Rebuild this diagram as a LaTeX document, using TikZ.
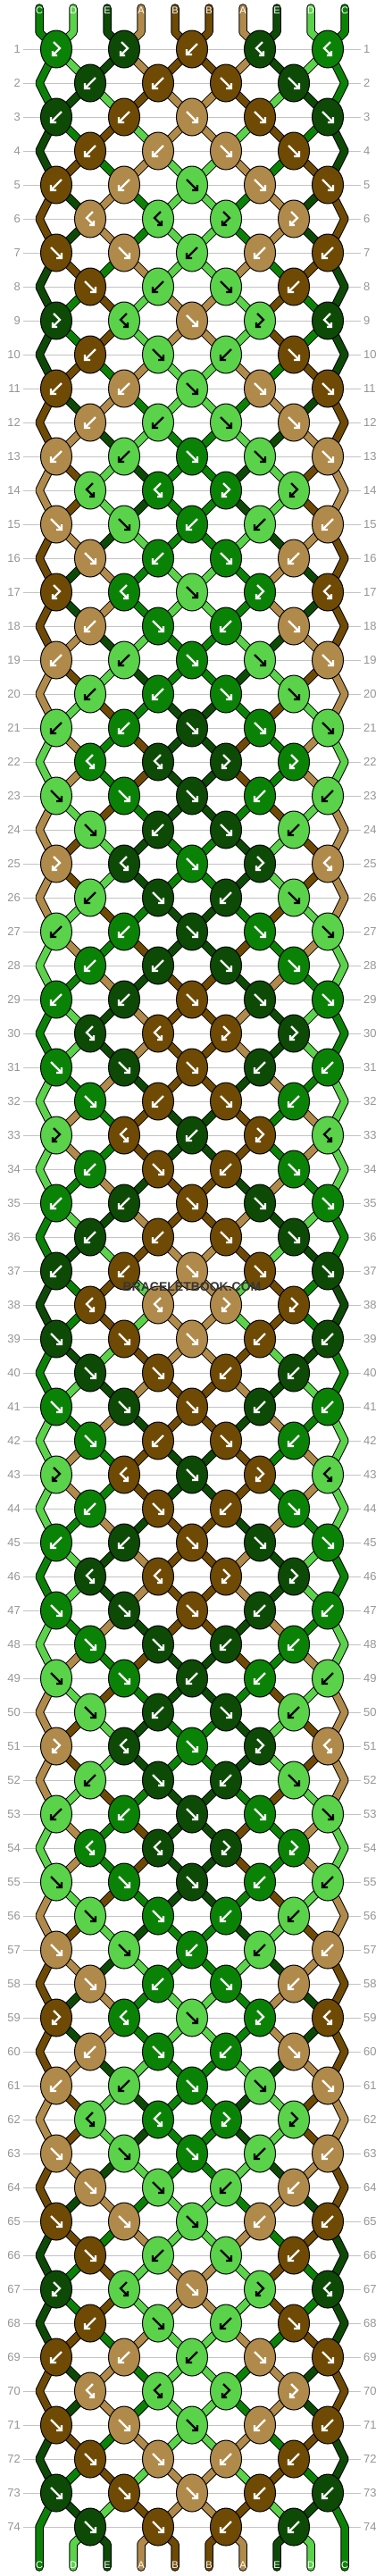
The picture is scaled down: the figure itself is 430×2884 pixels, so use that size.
\documentclass[tikz,border=0pt]{standalone}
\usepackage{fontspec}
\setmainfont{Liberation Sans}
\usepackage{xcolor}
\usetikzlibrary{shapes.geometric,positioning}
\definecolor{strA}{RGB}{176,138,74}
\definecolor{strB}{RGB}{110,74,4}
\definecolor{strC}{RGB}{10,130,6}
\definecolor{strD}{RGB}{90,210,74}
\definecolor{strE}{RGB}{12,74,6}
\definecolor{numgray}{RGB}{150,150,150}
\definecolor{rulegray}{RGB}{195,195,195}
\definecolor{markgray}{RGB}{55,55,55}

\pgfdeclarelayer{rules}
\pgfdeclarelayer{strands}
\pgfsetlayers{rules,strands,main}

\tikzset{
  knot/.style={ellipse, draw=black, line width=1pt, minimum width=35pt, minimum height=42pt, inner sep=0pt},
  strand/.style={draw=black, line width=1pt, double distance=7.5pt, line join=bevel},
  glyph/.style={line width=2.4pt},
  rownum/.style={text=numgray, inner sep=3pt, font=\fontsize{13}{13}\selectfont},
  rowrule/.style={draw=rulegray, line width=1pt},
  endlabel/.style={text=white, inner sep=0pt, font=\fontsize{11}{11}\selectfont}
}

% string state while knotting
\newcommand\putst[2]{\expandafter\xdef\csname st#1\endcsname{#2}}
\newcommand\getst[1]{\csname st#1\endcsname}

% F forward, B backward, R forward-backward, L backward-forward
\newcommand\knotrows{{R,R,B,L,L},{B,B,F,F},{B,B,F,F,F},{B,B,F,F},{B,B,F,F,F},{L,L,R,R},
{F,F,B,B,B},{F,B,F,B},{R,L,F,R,L},{B,F,B,F},{B,B,F,F,F},{B,B,F,F},{B,B,F,F,F},{L,L,R,R},
{F,F,B,B,B},{F,B,F,B},{R,L,F,R,L},{B,F,B,F},{B,B,F,F,F},{B,B,F,F},{B,B,F,F,F},{L,L,R,R},
{F,F,F,B,B},{F,B,F,B},{R,L,F,R,L},{B,F,B,F},{B,B,F,F,F},{B,B,F,F},{B,B,F,F,F},{L,L,R,R},
{F,F,F,B,B},{F,B,F,B},{R,L,B,R,L},{B,F,B,F},{B,B,F,F,F},{B,B,F,F},{B,B,F,F,F},{L,L,R,R},
{F,F,F,B,B},{F,F,B,B},{F,F,F,B,B},{F,B,F,B},{R,L,F,R,L},{B,F,B,F},{B,B,F,F,F},{L,L,R,R},
{F,F,F,B,B},{F,F,B,B},{F,F,B,B,B},{F,B,F,B},{R,L,F,R,L},{B,F,B,F},{B,B,F,F,F},{L,L,R,R},
{F,F,F,B,B},{F,F,B,B},{F,F,B,B,B},{F,B,F,B},{R,L,F,R,L},{B,F,B,F},{B,B,F,F,F},{L,L,R,R},
{F,F,F,B,B},{F,F,B,B},{F,F,F,B,B},{F,B,F,B},{R,L,F,R,L},{B,F,B,F},{B,B,B,F,F},{L,L,R,R},
{F,F,F,B,B},{F,F,B,B},{F,F,F,B,B},{F,F,B,B}}

\begin{document}
\begin{tikzpicture}[x=1pt, y=-1pt]
\useasboundingbox (0,0) rectangle (430,2884);
\begin{pgfonlayer}{rules}
  \fill[white] (0,0) rectangle (430,2884);
\end{pgfonlayer}

% strings at the start
\foreach \cc [count=\si] in {C,D,E,A,B,B,A,E,D,C} {
  \putst{\si}{\cc}
  \pgfmathsetmacro\x{44+38*(\si-1)}
  \coordinate (ta\si) at (\x,9);
  \coordinate (tb\si) at (\x,36);
  \coordinate (bb\si) at (\x,2848);
  \coordinate (bot\si) at (\x,2874);
}

% knots, row by row
\foreach \types [count=\rw] in \knotrows {
  \pgfmathsetmacro\y{55+38*(\rw-1)}
  \coordinate (eL\rw) at (44,\y);
  \coordinate (eR\rw) at (386,\y);
  \node[rownum, anchor=east] (nl\rw) at (26,\y) {\rw};
  \node[rownum, anchor=west] (nr\rw) at (404,\y) {\rw};
  \begin{pgfonlayer}{rules}
    \draw[rowrule] (nl\rw.east) -- (nr\rw.west);
  \end{pgfonlayer}
  \foreach \tp [count=\kn] in \types {
    \ifodd\rw
      \pgfmathtruncatemacro\li{2*\kn-1}
      \pgfmathsetmacro\x{63+76*(\kn-1)}
    \else
      \pgfmathtruncatemacro\li{2*\kn}
      \pgfmathsetmacro\x{101+76*(\kn-1)}
    \fi
    \pgfmathtruncatemacro\ri{\li+1}
    \edef\lc{\getst{\li}}\edef\rc{\getst{\ri}}
    \if\tp F\edef\kc{\lc}\putst{\li}{\rc}\putst{\ri}{\lc}\fi
    \if\tp B\edef\kc{\rc}\putst{\li}{\rc}\putst{\ri}{\lc}\fi
    \if\tp R\edef\kc{\lc}\fi
    \if\tp L\edef\kc{\rc}\fi
    \expandafter\xdef\csname dl\rw-\kn\endcsname{\getst{\li}}
    \expandafter\xdef\csname dr\rw-\kn\endcsname{\getst{\ri}}
    \node[knot, fill=str\kc] (k\rw-\kn) at (\x,\y) {};
    \if\kc D\def\gc{black}\else\def\gc{white}\fi
    \begin{scope}[shift={(k\rw-\kn.center)}, color=\gc]
      \if\tp F\draw[glyph] (-6,-6) -- (6,6) (0,6) -- (6,6) -- (6,0);\fi
      \if\tp B\draw[glyph] (6,-6) -- (-6,6) (0,6) -- (-6,6) -- (-6,0);\fi
      \if\tp R\draw[glyph] (-3,-8) -- (4,-1) -- (-4,7) (1,7) -- (-4,7) -- (-4,2);\fi
      \if\tp L\draw[glyph] (3,-8) -- (-4,-1) -- (4,7) (-1,7) -- (4,7) -- (4,2);\fi
    \end{scope}
  }
}

\begin{pgfonlayer}{strands}
% top ends
\foreach \cc [count=\si] in {C,D,E,A,B,B,A,E,D,C} {
  \pgfmathtruncatemacro\kn{(\si+1)/2}
  \draw[strand, double=str\cc, line cap=round] (ta\si) -- (tb\si) -- (k1-\kn.center);
  \node[endlabel] (tl\si) at (ta\si) [yshift=-3pt] {\cc};
}
% strands between knots
\foreach \rw in {1,...,74} {
  \ifodd\rw \def\nk{5}\else \def\nk{4}\fi
  \pgfmathtruncatemacro\rn{\rw+1}
  \pgfmathtruncatemacro\rnn{\rw+2}
  \foreach \kn in {1,...,\nk} {
    \edef\cll{\csname dl\rw-\kn\endcsname}
    \edef\crr{\csname dr\rw-\kn\endcsname}
    \pgfmathtruncatemacro\km{\kn-1}
    \pgfmathtruncatemacro\kp{\kn+1}
    \ifodd\rw
      \ifnum\kn=1
        \ifnum\rw<73
          \draw[strand, double=str\cll] (k\rw-1.center) -- (eL\rn) -- (k\rnn-1.center);
        \else
          \draw[strand, double=str\cll, line cap=round] (k\rw-1.center) -- (eL\rn) -- (bot1);
        \fi
      \else
        \draw[strand, double=str\cll] (k\rw-\kn.center) -- (k\rn-\km.center);
      \fi
      \ifnum\kn=5
        \ifnum\rw<73
          \draw[strand, double=str\crr] (k\rw-5.center) -- (eR\rn) -- (k\rnn-5.center);
        \else
          \draw[strand, double=str\crr, line cap=round] (k\rw-5.center) -- (eR\rn) -- (bot10);
        \fi
      \else
        \draw[strand, double=str\crr] (k\rw-\kn.center) -- (k\rn-\kn.center);
      \fi
    \else
      \ifnum\rw<74
        \draw[strand, double=str\cll] (k\rw-\kn.center) -- (k\rn-\kn.center);
        \draw[strand, double=str\crr] (k\rw-\kn.center) -- (k\rn-\kp.center);
      \else
        \pgfmathtruncatemacro\ia{2*\kn}
        \pgfmathtruncatemacro\ib{2*\kn+1}
        \draw[strand, double=str\cll, line cap=round] (k\rw-\kn.center) -- (bb\ia) -- (bot\ia);
        \draw[strand, double=str\crr, line cap=round] (k\rw-\kn.center) -- (bb\ib) -- (bot\ib);
      \fi
    \fi
  }
}
% bottom ends
\foreach \si in {1,...,10} {
  \edef\cc{\getst{\si}}
  \node[endlabel] (bl\si) at (bot\si) [yshift=2pt] {\cc};
}
\end{pgfonlayer}

\node[text=markgray, font=\bfseries\fontsize{14}{14}\selectfont] (mark) at (215,1441) {BRACELETBOOK.COM};
\end{tikzpicture}
\end{document}
